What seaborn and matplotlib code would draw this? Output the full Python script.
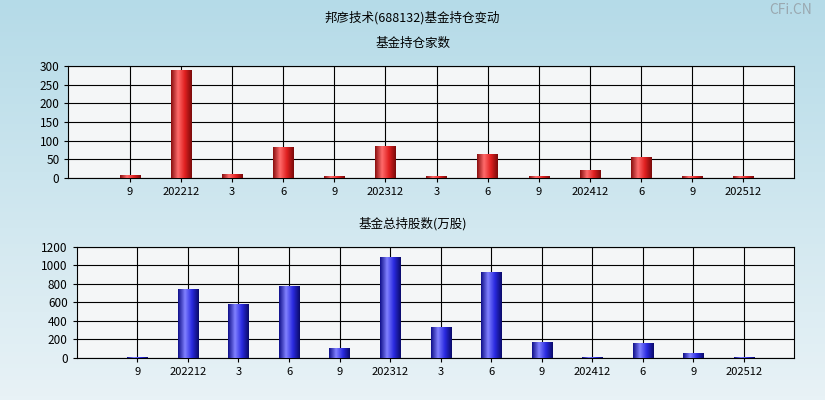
import numpy as np
import pandas as pd
import seaborn as sns
import matplotlib.pyplot as plt
from matplotlib.colors import LinearSegmentedColormap

plt.rcParams['font.family'] = ['Noto Sans CJK SC', 'DejaVu Sans']

labels = ['9', '202212', '3', '6', '9', '202312', '3', '6', '9', '202412', '6', '9', '202512']
funds = [7, 290, 10, 82, 5, 87, 5, 63, 5, 22, 55, 5, 5]
shares = [10, 750, 580, 780, 110, 1090, 330, 930, 175, 10, 165, 55, 10]

fig = plt.figure(figsize=(8.25, 4.0), dpi=100)
# background gradient
bg = fig.add_axes([0, 0, 1, 1], zorder=-10)
bg.imshow(np.linspace(0, 1, 100).reshape(-1, 1), aspect='auto',
          cmap=LinearSegmentedColormap.from_list('bg', ['#b5dbe8', '#e8f2f6']), extent=[0, 1, 0, 1])
bg.axis('off')

fig.text(0.5, 0.955, '邦彦技术(688132)基金持仓变动', ha='center', va='center', fontsize=9)
fig.text(0.5, 0.892, '基金持仓家数', ha='center', va='center', fontsize=9)
fig.text(0.5, 0.44, '基金总持股数(万股)', ha='center', va='center', fontsize=9)
fig.text(0.985, 0.975, 'CFi.CN', ha='right', va='center', fontsize=10, color='#9aa8b0')

red = LinearSegmentedColormap.from_list('r', ['#8a0f0f', '#ff6b6b', '#e02020', '#7a0a0a'])
blue = LinearSegmentedColormap.from_list('b', ['#10108a', '#8080ff', '#2a2ae0', '#0a0a6a'])


def panel(rect, vals, ymax, step, cmap):
    ax = fig.add_axes(rect)
    df = pd.DataFrame({'x': range(len(vals)), 'v': vals})
    sns.barplot(data=df, x='x', y='v', ax=ax, width=0.4, color='red', native_scale=True)
    grad = np.linspace(0, 1, 64).reshape(1, -1)
    for p in ax.patches:
        x0, y0 = p.get_x(), p.get_y()
        im = ax.imshow(grad, cmap=cmap, aspect='auto', zorder=3,
                       extent=[x0, x0 + p.get_width(), y0, y0 + p.get_height()])
        im.set_clip_path(p)
        p.set_edgecolor('none')
    ax.set_xlim(-1.2, len(vals))
    ax.set_ylim(0, ymax)
    ax.set_facecolor('#f4f6f7')
    ax.set_xticks(range(len(vals)))
    ax.set_xticklabels(labels, fontsize=8)
    ax.set_yticks(np.arange(0, ymax + 1, step))
    ax.tick_params(axis='y', labelsize=8.5, length=3)
    ax.tick_params(axis='x', length=3)
    ax.grid(True, color='black', linewidth=0.8, zorder=1)
    ax.set_axisbelow(True)
    ax.set_xlabel('')
    ax.set_ylabel('')
    for s in ax.spines.values():
        s.set_linewidth(0.8)
    return ax


panel([0.083, 0.555, 0.88, 0.28], funds, 300, 50, red)
panel([0.093, 0.105, 0.87, 0.278], shares, 1200, 200, blue)

fig.savefig('out.png', dpi=100)
